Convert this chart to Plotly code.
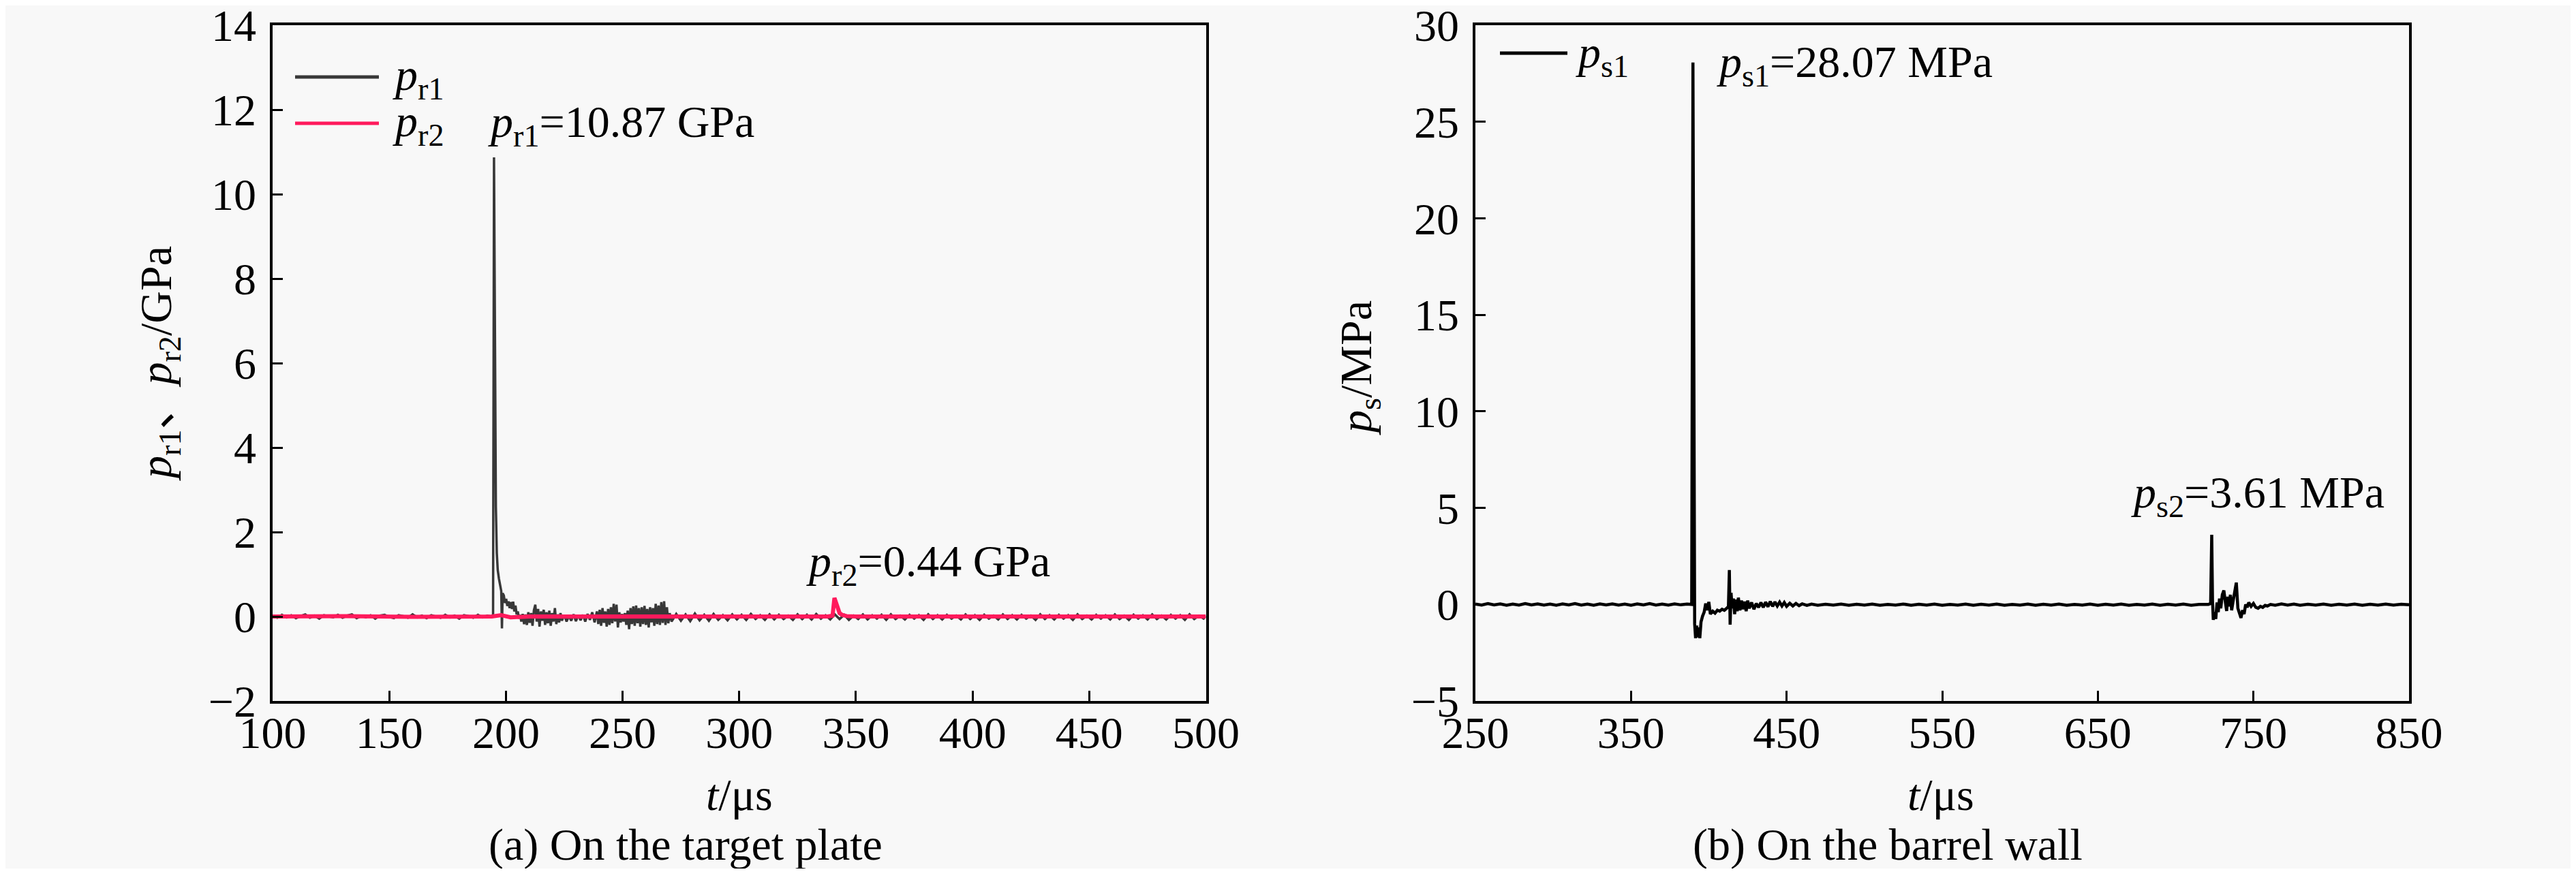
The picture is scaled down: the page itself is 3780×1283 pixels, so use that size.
import plotly.graph_objects as go

# ---------------- data ----------------
PR1_POINTS = [
    (100,0.02),(102,-0.03),(104,0.04),(106,-0.02),(108,0.03),(110,-0.04),(112,0.01),(114,0.05),
    (116,-0.03),(118,0.02),(120,-0.05),(122,0.03),(124,0.0),(126,-0.02),(128,0.04),(130,-0.03),
    (132,0.02),(134,0.05),(136,-0.04),(138,0.01),(140,-0.02),(142,0.03),(144,-0.05),(146,0.02),
    (148,0.04),(150,-0.01),(152,-0.04),(154,0.03),(156,0.01),(158,-0.03),(160,0.05),(162,-0.02),
    (164,0.02),(166,-0.04),(168,0.03),(170,0.0),(172,-0.03),(174,0.04),(176,-0.02),(178,0.02),
    (180,-0.05),(182,0.03),(184,0.01),(186,-0.03),(188,0.04),(190,-0.02),(192,0.02),(194,0.0),
    (194.5,0.05),(194.9,10.87),(195.3,5.8),(195.7,2.6),(196.1,1.5),(196.5,1.1),(197.0,0.9),
    (197.5,0.75),(198.0,0.6),(198.3,-0.28),(198.6,0.55),(199.1,0.5),(199.6,0.32),(200.1,0.42),
    (200.6,0.25),(201.1,0.36),(201.6,0.2),(202.1,0.34),(202.6,0.18),(203.1,0.35),(203.6,0.12),
    (204.1,0.26),(204.6,0.05),(205.1,0.12),(205.6,-0.05),(206.1,0.04),(206.6,-0.12),
    (207.2,0.06),(207.8,-0.18),(208.4,0.05),(209.0,-0.2),(209.6,0.1),(210.2,-0.15),(210.8,0.08),
    (211.4,-0.22),(212.0,0.15),(212.6,0.28),(213.2,-0.12),(213.8,0.18),(214.4,-0.24),(215.0,0.12),
    (215.6,-0.1),(216.2,0.16),(216.8,-0.2),(217.4,0.1),(218.0,-0.16),(218.6,0.14),(219.2,-0.22),
    (219.8,0.08),(220.4,-0.12),(221.0,0.2),(221.6,-0.18),(222.2,0.05),(222.8,-0.14),(223.4,0.08),
    (224.0,-0.1),(225,0.04),(226,-0.12),(227,0.02),(228,-0.1),(229,0.05),(230,-0.11),(231,0.03),
    (232,-0.09),(233,0.04),(234,-0.12),(235,0.06),(236,-0.08),(237,0.1),(238,-0.14),(239,0.12),
    (239.6,-0.18),(240.2,0.16),(240.8,-0.22),(241.4,0.2),(242.0,-0.15),(242.6,0.12),(243.2,-0.24),
    (243.8,0.18),(244.4,-0.2),(245.0,0.22),(245.6,-0.16),(246.2,0.3),(246.8,-0.12),(247.4,0.28),
    (248.0,-0.26),(248.6,0.1),(249.2,-0.14),(249.8,0.06),(250.4,-0.12),(251.0,0.08),(251.6,-0.2),
    (252.2,0.14),(252.8,-0.3),(253.4,0.2),(254.0,-0.18),(254.6,0.24),(255.2,-0.22),(255.8,0.26),
    (256.4,-0.16),(257.0,0.2),(257.6,-0.24),(258.2,0.22),(258.8,-0.18),(259.4,0.25),(260.0,-0.2),
    (260.6,0.18),(261.2,-0.26),(261.8,0.22),(262.4,-0.14),(263.0,0.2),(263.6,-0.22),(264.2,0.3),
    (264.8,-0.18),(265.4,0.26),(266.0,-0.2),(266.6,0.34),(267.2,-0.15),(267.8,0.36),(268.4,-0.2),
    (269.0,0.22),(269.6,-0.16),(270.2,0.08),
    (271,-0.12),(273,0.06),(275,-0.1),(277,0.05),(279,-0.11),(281,0.07),(283,-0.09),(285,0.04),
    (287,-0.1),(289,0.06),(291,-0.08),(293,0.03),(295,-0.09),(297,0.05),(299,-0.07),(301,0.04),
    (303,-0.08),(305,0.06),(307,-0.06),(309,0.03),(311,-0.08),(313,0.05),(315,-0.07),(317,0.04),
    (319,-0.06),(321,0.02),(323,-0.08),(325,0.05),(327,-0.06),(329,0.04),(331,-0.07),(333,0.06),
    (335,-0.05),(337,0.03),(339,-0.07),(341,0.05),(343,-0.06),(345,0.04),(347,-0.08),(349,0.02),
    (351,-0.06),(353,0.05),(355,-0.07),(357,0.03),(359,-0.05),(361,0.04),(363,-0.08),(365,0.05),
    (367,-0.06),(369,0.02),(371,-0.07),(373,0.04),(375,-0.05),(377,0.03),(379,-0.08),(381,0.05),
    (383,-0.06),(385,0.03),(387,-0.07),(389,0.04),(391,-0.05),(393,0.02),(395,-0.07),(397,0.05),
    (399,-0.06),(401,0.03),(403,-0.08),(405,0.04),(407,-0.05),(409,0.02),(411,-0.07),(413,0.05),
    (415,-0.06),(417,0.03),(419,-0.07),(421,0.04),(423,-0.05),(425,0.02),(427,-0.08),(429,0.05),
    (431,-0.06),(433,0.03),(435,-0.07),(437,0.04),(439,-0.05),(441,0.03),(443,-0.08),(445,0.05),
    (447,-0.06),(449,0.02),(451,-0.07),(453,0.04),(455,-0.05),(457,0.03),(459,-0.07),(461,0.05),
    (463,-0.06),(465,0.02),(467,-0.08),(469,0.04),(471,-0.05),(473,0.03),(475,-0.07),(477,0.05),
    (479,-0.06),(481,0.02),(483,-0.07),(485,0.04),(487,-0.05),(489,0.03),(491,-0.08),(493,0.05),
    (495,-0.06),(497,0.02),(499,-0.05),(500,0.01),
]

PR2_POINTS = [
    (100,0.0),(130,0.01),(160,-0.01),(194,0.0),(198,0.03),(202,-0.02),(210,0.0),(250,-0.01),
    (300,0.0),(338,0.0),(340,0.02),(340.8,0.44),(341.5,0.3),(342.2,0.15),(343,0.08),(344,0.04),
    (346,0.01),(350,0.0),(400,0.01),(450,0.0),(500,0.0),
]

PS_POINTS = [
    (250,0.02),(254,-0.03),(258,0.04),(262,-0.02),(266,0.03),(270,-0.04),(274,0.02),(278,-0.03),
    (282,0.04),(286,-0.02),(290,0.03),(294,-0.03),(298,0.02),(302,-0.04),(306,0.03),(310,-0.02),
    (314,0.04),(318,-0.03),(322,0.02),(326,-0.04),(330,0.03),(334,-0.02),(338,0.03),(342,-0.03),
    (346,0.02),(350,-0.04),(354,0.03),(358,-0.02),(362,0.04),(366,-0.03),(370,0.02),(374,-0.03),
    (378,0.03),(382,-0.02),(386,0.02),(389,0.0),
    (389.8,28.07),(390.4,0.5),(390.9,-1.0),(391.5,-1.75),(392.2,-1.1),(392.8,-1.7),(393.5,-1.2),
    (394.2,-1.75),(395,-0.9),(396,-0.6),(397,-0.4),(398,0.05),(399,-0.3),(400,0.13),(401,-0.5),
    (402.5,-0.35),(404,-0.45),(405.5,-0.3),(407,-0.35),(408.5,-0.25),(410,-0.3),(411.5,-0.2),
    (412.6,-0.1),(413.2,1.78),(413.7,-1.05),(414.3,0.6),(415,-0.2),(415.8,0.3),(416.6,-0.5),
    (417.4,0.25),(418.2,-0.35),(419,0.35),(420,-0.3),(421,0.2),(422,-0.25),(423,0.15),(424,-0.35),
    (425,0.2),(426,-0.2),(427.5,0.1),(429,-0.25),(430.5,0.05),(432,-0.15),(433.5,0.1),(435,-0.15),
    (436.5,0.12),(438,-0.12),(439.5,0.15),(441,-0.1),(442.5,0.13),(444,-0.08),(445.5,0.12),
    (447,-0.08),(448.5,0.1),(450,-0.1),(452,0.06),(454,-0.08),(456,0.05),(458,-0.06),(460,0.03),
    (463,-0.05),(466,0.02),
    (470,-0.04),(475,0.01),(480,-0.03),(485,0.02),(490,-0.04),(495,0.01),(500,-0.03),(505,0.02),
    (510,-0.04),(515,0.0),(520,-0.03),(525,0.02),(530,-0.04),(535,0.01),(540,-0.03),(545,0.02),
    (550,-0.04),(555,0.0),(560,-0.03),(565,0.02),(570,-0.04),(575,0.01),(580,-0.03),(585,0.02),
    (590,-0.04),(595,0.0),(600,-0.03),(605,0.02),(610,-0.04),(615,0.01),(620,-0.03),(625,0.02),
    (630,-0.04),(635,0.0),(640,-0.03),(645,0.02),(650,-0.04),(655,0.01),(660,-0.03),(665,0.02),
    (670,-0.04),(675,0.0),(680,-0.03),(685,0.02),(690,-0.04),(695,0.01),(700,-0.03),(705,0.02),
    (710,-0.04),(715,0.0),(720,-0.03),
    (721,0.0),(722.5,0.05),(723.2,3.61),(723.7,0.2),(724.2,-0.8),(725,-0.4),(725.8,-0.75),
    (726.6,0.1),(727.4,-0.4),(728.2,0.3),(729,-0.2),(730,0.5),(731,0.72),(732,0.1),(732.8,-0.34),
    (733.6,0.4),(734.4,-0.1),(735.2,0.5),(736,-0.3),(737,0.2),(738,0.6),(739,1.13),(740,-0.2),
    (741,-0.5),(742,-0.7),(743,-0.3),(744,-0.5),(745,0.0),(746,-0.15),(747,0.1),(748.5,-0.1),
    (750,0.05),(751.5,-0.15),(753,-0.2),(754.5,-0.1),(756,-0.15),(757.5,-0.05),(759,-0.08),
    (761,0.0),(764,-0.04),(768,0.03),(772,-0.03),(776,0.02),(780,-0.04),(785,0.01),(790,-0.03),
    (795,0.02),(800,-0.04),(805,0.01),(810,-0.03),(815,0.02),(820,-0.04),(825,0.01),(830,-0.03),
    (835,0.02),(840,-0.03),(845,0.01),(850,-0.02),
]

LEFT_XTICKS = [100, 150, 200, 250, 300, 350, 400, 450, 500]
LEFT_YTICKS = [-2, 0, 2, 4, 6, 8, 10, 12, 14]
RIGHT_XTICKS = [250, 350, 450, 550, 650, 750, 850]
RIGHT_YTICKS = [-5, 0, 5, 10, 15, 20, 25, 30]

# ---------------- styling ----------------
PAGE_W, PAGE_H = 3780, 1283
OFF = 8  # default page body margin
W, H = PAGE_W - 2 * OFF, PAGE_H - 2 * OFF
BG = "#f8f8f8"
FONT = "Liberation Serif"
FS = 66
GRAY = "#383838"
PINK = "#ff1a5c"
BLACK = "#000000"


def fx(px):
    return (px - OFF) / W


def fy(py):
    return 1 - (py - OFF) / H


fig = go.Figure()
fig.add_trace(go.Scatter(x=[p[0] for p in PR1_POINTS], y=[p[1] for p in PR1_POINTS],
                         mode="lines", line=dict(color=GRAY, width=3.5), xaxis="x", yaxis="y",
                         showlegend=False))
fig.add_trace(go.Scatter(x=[p[0] for p in PR2_POINTS], y=[p[1] for p in PR2_POINTS],
                         mode="lines", line=dict(color=PINK, width=6), xaxis="x", yaxis="y",
                         showlegend=False))
fig.add_trace(go.Scatter(x=[p[0] for p in PS_POINTS], y=[p[1] for p in PS_POINTS],
                         mode="lines", line=dict(color=BLACK, width=4.5), xaxis="x2", yaxis="y2",
                         showlegend=False))

axis_common = dict(showline=True, linecolor="black", linewidth=3.5, mirror=True,
                   ticks="inside", ticklen=15, tickwidth=3, tickcolor="black",
                   showgrid=False, zeroline=False, ticklabeloverflow="allow",
                   tickfont=dict(family=FONT, size=FS, color="black"))

ydom = [fy(1029), fy(37)]
fig.update_layout(
    width=W, height=H,
    margin=dict(l=0, r=0, t=0, b=0, autoexpand=False),
    paper_bgcolor=BG, plot_bgcolor=BG,
    showlegend=False,
    xaxis=dict(domain=[fx(400), fx(1769.5)], range=[100, 500], tickvals=LEFT_XTICKS,
               anchor="y", ticklabelstandoff=-14, **axis_common),
    yaxis=dict(domain=ydom, range=[-2, 14], tickvals=LEFT_YTICKS, anchor="x",
               ticklabelstandoff=7, **axis_common),
    xaxis2=dict(domain=[fx(2165), fx(3535)], range=[250, 850], tickvals=RIGHT_XTICKS,
                anchor="y2", ticklabelstandoff=-14, **axis_common),
    yaxis2=dict(domain=ydom, range=[-5, 30], tickvals=RIGHT_YTICKS, anchor="x2",
                ticklabelstandoff=7, **axis_common),
)

# legend lines (drawn as shapes)
shapes = [
    dict(type="line", xref="paper", yref="paper", x0=fx(433), x1=fx(556), y0=fy(113), y1=fy(113),
         line=dict(color=GRAY, width=5)),
    dict(type="line", xref="paper", yref="paper", x0=fx(433), x1=fx(556), y0=fy(181), y1=fy(181),
         line=dict(color=PINK, width=5)),
    dict(type="line", xref="paper", yref="paper", x0=fx(2201), x1=fx(2300), y0=fy(78), y1=fy(78),
         line=dict(color=BLACK, width=5)),
]
fig.update_layout(shapes=shapes)

tf = dict(family=FONT, size=FS, color="black")
ann = []


def add_paper(text, x, y, xanchor="center", yanchor="middle", angle=0, size=FS):
    ann.append(dict(text=text, xref="paper", yref="paper", x=fx(x), y=fy(y),
                    xanchor=xanchor, yanchor=yanchor, showarrow=False, textangle=angle,
                    font=dict(family=FONT, size=size, color="black")))


# legend texts
add_paper("<i>p</i><sub>r1</sub>", 574, 114, xanchor="left")
add_paper("<i>p</i><sub>r2</sub>", 574, 182, xanchor="left")
add_paper("<i>p</i><sub>s1</sub>", 2310, 82, xanchor="left")

# peak labels (data coordinates)
ann.append(dict(text="<i>p</i><sub>r1</sub>=10.87 GPa", xref="x", yref="y", x=191.7, y=11.63,
                xanchor="left", yanchor="middle", showarrow=False, font=tf))
ann.append(dict(text="<i>p</i><sub>r2</sub>=0.44 GPa", xref="x", yref="y", x=328.1, y=1.23,
                xanchor="left", yanchor="middle", showarrow=False, font=tf))
ann.append(dict(text="<i>p</i><sub>s1</sub>=28.07 MPa", xref="x2", yref="y2", x=404.2, y=27.92,
                xanchor="left", yanchor="middle", showarrow=False, font=tf))
ann.append(dict(text="<i>p</i><sub>s2</sub>=3.61 MPa", xref="x2", yref="y2", x=670.5, y=5.65,
                xanchor="left", yanchor="middle", showarrow=False, font=tf))

# axis titles
add_paper("<i>t</i>/μs", 1085, 1166)
add_paper("<i>t</i>/μs", 2848, 1166)
add_paper("<i>p</i><sub>r1</sub><span style='font-family:Noto Sans CJK SC'>、</span><i>p</i><sub>r2</sub>/GPa",
          224, 534, angle=-90)
add_paper("<i>p</i><sub>s</sub>/MPa", 1994, 540, angle=-90)

# captions
add_paper("(a) On the target plate", 1006, 1240)
add_paper("(b) On the barrel wall", 2770, 1240)

fig.update_layout(annotations=ann)
fig.write_html("out.html")
